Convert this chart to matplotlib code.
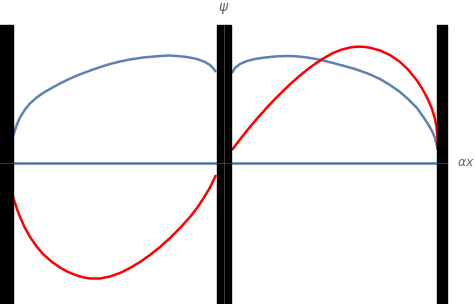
import matplotlib.pyplot as plt
from matplotlib.patches import Rectangle

# values (x in alpha*x units, y in psi units)
blue_left_x = [-2.11, -2.073, -2.04, -1.99, -1.94, -1.873, -1.81, -1.723, -1.64, -1.56, -1.47, -1.39, -1.31,
               -1.22, -1.14, -1.04, -0.94, -0.81, -0.64, -0.55, -0.47, -0.37, -0.27, -0.19, -0.14, -0.11, -0.08]
blue_left_y = [0.27, 0.38, 0.455, 0.535, 0.595, 0.655, 0.70, 0.75, 0.795, 0.835, 0.875, 0.905, 0.935,
               0.965, 0.99, 1.015, 1.035, 1.055, 1.07, 1.075, 1.07, 1.06, 1.04, 1.01, 0.98, 0.95, 0.91]
blue_right_x = [0.08, 0.11, 0.16, 0.23, 0.31, 0.41, 0.51, 0.61, 0.71, 0.81, 0.91, 1.01, 1.11, 1.21,
                1.31, 1.41, 1.46, 1.56, 1.66, 1.76, 1.84, 1.93, 1.99, 2.04, 2.08, 2.11, 2.125, 2.135]
blue_right_y = [0.90, 0.95, 0.99, 1.02, 1.04, 1.055, 1.065, 1.07, 1.068, 1.058, 1.042, 1.02, 0.995, 0.968,
                0.94, 0.905, 0.885, 0.84, 0.78, 0.71, 0.64, 0.55, 0.465, 0.39, 0.32, 0.25, 0.19, 0.14]
red_left_x = [-2.11, -2.07, -2.04, -1.99, -1.94, -1.87, -1.81, -1.72, -1.64, -1.56, -1.47, -1.40, -1.34,
              -1.24, -1.14, -1.04, -0.94, -0.84, -0.74, -0.64, -0.54, -0.44, -0.34, -0.27, -0.21, -0.14, -0.08]
red_left_y = [-0.34, -0.46, -0.54, -0.65, -0.74, -0.84, -0.91, -0.99, -1.045, -1.09, -1.125, -1.145, -1.155,
              -1.155, -1.135, -1.10, -1.05, -0.99, -0.92, -0.84, -0.75, -0.65, -0.54, -0.45, -0.36, -0.245, -0.12]
red_right_x = [0.08, 0.14, 0.21, 0.28, 0.34, 0.43, 0.51, 0.59, 0.68, 0.76, 0.84, 0.93, 1.01, 1.09, 1.18, 1.26,
               1.31, 1.36, 1.41, 1.46, 1.56, 1.66, 1.76, 1.84, 1.93, 1.99, 2.04, 2.08, 2.11, 2.125, 2.135, 2.14]
red_right_y = [0.13, 0.21, 0.30, 0.385, 0.455, 0.555, 0.64, 0.72, 0.805, 0.875, 0.94, 1.005, 1.055, 1.10, 1.135,
               1.155, 1.162, 1.163, 1.16, 1.153, 1.125, 1.08, 1.01, 0.935, 0.825, 0.73, 0.635, 0.54, 0.44, 0.36,
               0.26, 0.14]
barriers = [(-2.24, -2.11), (-0.07, 0.07), (2.13, 2.23)]

blue = '#5E81B5'
red = '#FF0000'
gray = '#555555'

fig = plt.figure(figsize=(4.75, 3.04), dpi=100)
ax = fig.add_axes([0, 0, 1, 1])
ax.set_xlim(-2.24, 2.51)
ax.set_ylim(-1.41, 1.63)
ax.axis('off')

bar_top = 1.38
for x0, x1 in barriers:
    ax.add_patch(Rectangle((x0, -1.5), x1 - x0, bar_top + 1.5, color='black', zorder=3))

ax.plot([-2.11, 2.13], [0, 0], color=blue, lw=1.8, zorder=2)
for xs, ys, c in [(blue_left_x, blue_left_y, blue), (blue_right_x, blue_right_y, blue),
                  (red_left_x, red_left_y, red), (red_right_x, red_right_y, red)]:
    ax.plot(xs, ys, color=c, lw=1.8, zorder=2, solid_joinstyle='round', solid_capstyle='butt')

# axes drawn over the barriers
ax.plot([-2.24, 2.23], [0, 0], color=gray, lw=0.5, zorder=4)
ax.plot([0, 0], [-1.5, bar_top], color=gray, lw=0.5, zorder=4)

ax.text(0, 1.55, r'$\psi$', color='#666666', fontsize=10, ha='center', va='center')
ax.text(2.33, 0, r'$\alpha x$', color='#666666', fontsize=9, ha='left', va='center')

fig.savefig('out.png', dpi=100)
